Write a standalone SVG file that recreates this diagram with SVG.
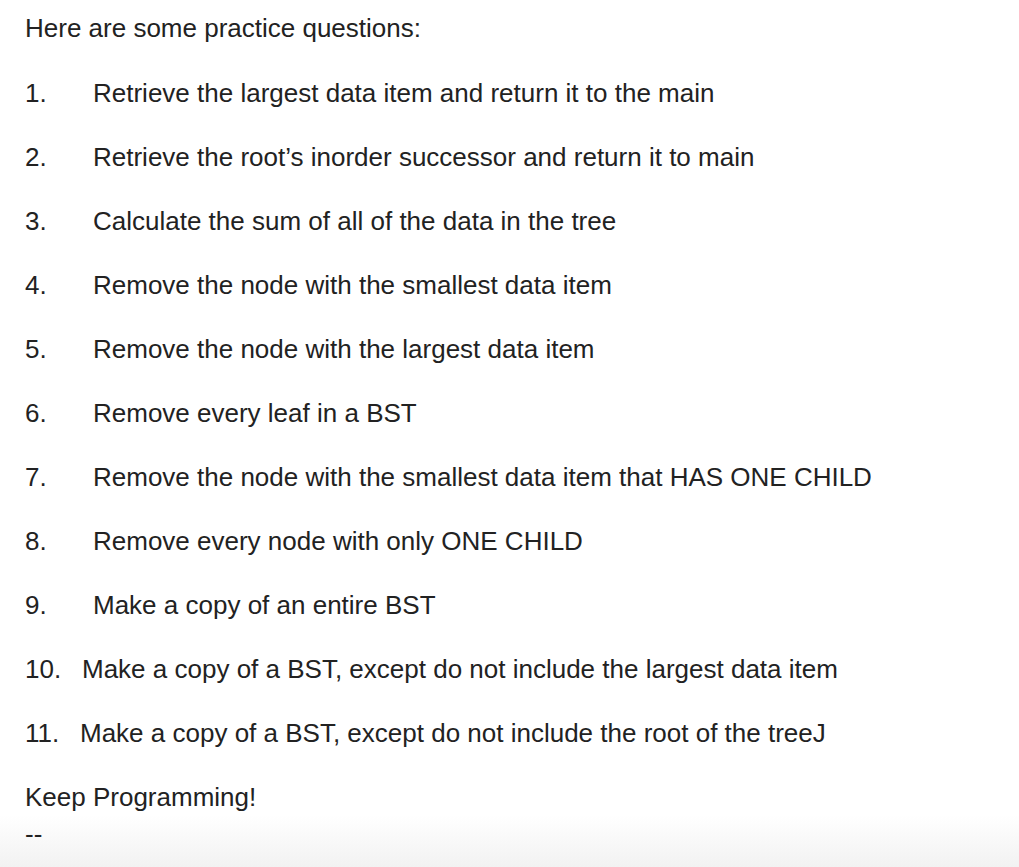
<svg xmlns="http://www.w3.org/2000/svg" width="1019" height="867" viewBox="0 0 1019 867">
<defs>
<linearGradient id="fade" x1="0" y1="0" x2="0" y2="1">
<stop offset="0" stop-color="#ffffff"/>
<stop offset="1" stop-color="#f2f2f2"/>
</linearGradient>
<style>
text{font-family:"Liberation Sans",Arial,sans-serif;font-size:26px;fill:#222222}
</style>
</defs>
<rect x="0" y="0" width="1019" height="867" fill="#ffffff"/>
<rect x="0" y="815" width="1019" height="52" fill="url(#fade)"/>
<text x="25" y="37">Here are some practice questions:</text>
<g id="q1"><text x="25" y="102">1.</text><text x="93" y="102">Retrieve the largest data item and return it to the main</text></g>
<g id="q2"><text x="25" y="166">2.</text><text x="93" y="166">Retrieve the root’s inorder successor and return it to main</text></g>
<g id="q3"><text x="25" y="230">3.</text><text x="93" y="230">Calculate the sum of all of the data in the tree</text></g>
<g id="q4"><text x="25" y="294">4.</text><text x="93" y="294">Remove the node with the smallest data item</text></g>
<g id="q5"><text x="25" y="358">5.</text><text x="93" y="358">Remove the node with the largest data item</text></g>
<g id="q6"><text x="25" y="422">6.</text><text x="93" y="422">Remove every leaf in a BST</text></g>
<g id="q7"><text x="25" y="486">7.</text><text x="93" y="486">Remove the node with the smallest data item that HAS ONE CHILD</text></g>
<g id="q8"><text x="25" y="550">8.</text><text x="93" y="550">Remove every node with only ONE CHILD</text></g>
<g id="q9"><text x="25" y="614">9.</text><text x="93" y="614">Make a copy of an entire BST</text></g>
<g id="q10"><text x="25" y="678">10.</text><text x="82" y="678">Make a copy of a BST, except do not include the largest data item</text></g>
<g id="q11"><text x="25" y="742">11.</text><text x="80" y="742">Make a copy of a BST, except do not include the root of the treeJ</text></g>
<text x="25" y="806">Keep Programming!</text>
<text x="25" y="843">--</text>
</svg>
